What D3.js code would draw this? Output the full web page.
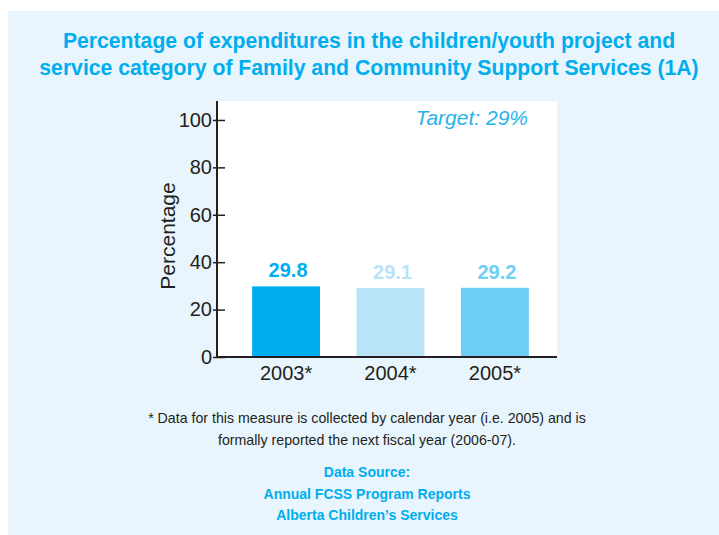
<!DOCTYPE html>
<html>
<head>
<meta charset="utf-8">
<script src="https://cdn.jsdelivr.net/npm/d3@7"></script>
<style>
  body { margin: 0; background: #fff; }
  svg { display: block; font-family: "Liberation Sans", Arial, sans-serif; }
</style>
</head>
<body>
<svg id="chart" width="719" height="535"></svg>
<script>
// chart data
const years = ['2003*', '2004*', '2005*'];
const values = [29.8, 29.1, 29.2];
const barColors = ['#00aeef', '#b9e4f8', '#6dcff6'];
const yTicks = [0, 20, 40, 60, 80, 100];
const titleLines = [
  'Percentage of expenditures in the children/youth project and',
  'service category of Family and Community Support Services (1A)'
];
const noteLines = [
  '* Data for this measure is collected by calendar year (i.e. 2005) and is',
  'formally reported the next fiscal year (2006-07).'
];
const sourceLines = ['Data Source:', 'Annual FCSS Program Reports', 'Alberta Children\u2019s Services'];

const svg = d3.select('#chart');
const blue = '#00aeef';
const ink = '#231f20';

// light blue panel behind everything
svg.append('rect')
  .attr('x', 8).attr('y', 11)
  .attr('width', 711).attr('height', 524)
  .attr('fill', '#e9f5fc');

// title
svg.append('g').selectAll('text')
  .data(titleLines)
  .enter().append('text')
  .attr('x', 369)
  .attr('y', (d, i) => 48 + i * 27)
  .attr('text-anchor', 'middle')
  .style('font-size', '21.2px')
  .style('font-weight', 'bold')
  .style('fill', blue)
  .text(d => d);

// plot area
const plotLeft = 217, plotRight = 557, plotTop = 101, plotBottom = 357;

svg.append('rect')
  .attr('x', plotLeft).attr('y', plotTop)
  .attr('width', plotRight - plotLeft).attr('height', plotBottom - plotTop)
  .attr('fill', '#fff');

const x = d3.scaleBand()
  .domain(years)
  .range([226, 555])
  .paddingInner(0.35)
  .paddingOuter(0.25);

const y = d3.scaleLinear()
  .domain([0, 108])
  .range([plotBottom, plotTop]);

// bars
svg.append('g').selectAll('rect')
  .data(values)
  .enter().append('rect')
  .attr('x', (d, i) => x(years[i]))
  .attr('y', d => y(d))
  .attr('width', x.bandwidth())
  .attr('height', d => y(0) - y(d))
  .attr('fill', (d, i) => barColors[i]);

// value labels
svg.append('g').selectAll('text')
  .data(values)
  .enter().append('text')
  .attr('x', (d, i) => x(years[i]) + x.bandwidth() / 2 + 2)
  .attr('y', d => y(d) - 9)
  .attr('text-anchor', 'middle')
  .style('font-size', '20px')
  .style('font-weight', 'bold')
  .style('fill', (d, i) => barColors[i])
  .text(d => d.toFixed(1));

// y axis, ticks cross the line
const yAxis = svg.append('g')
  .attr('transform', `translate(${plotLeft},0)`)
  .call(d3.axisLeft(y).tickValues(yTicks).tickSize(0).tickPadding(5));
yAxis.select('.domain').remove();
yAxis.selectAll('text')
  .style('font-size', '20px')
  .style('fill', ink);
yAxis.selectAll('.tick').append('line')
  .attr('x1', -4).attr('x2', 8)
  .attr('stroke', ink).attr('stroke-width', 1.5);
yAxis.append('line')
  .attr('x1', 0).attr('x2', 0)
  .attr('y1', plotTop).attr('y2', plotBottom)
  .attr('stroke', ink).attr('stroke-width', 2);

// x axis
const xAxis = svg.append('g')
  .attr('transform', `translate(0,${plotBottom})`)
  .call(d3.axisBottom(x).tickSize(0).tickPadding(9));
xAxis.select('.domain').remove();
xAxis.selectAll('text')
  .style('font-size', '20px')
  .style('fill', ink);
xAxis.append('line')
  .attr('x1', plotLeft - 1).attr('x2', plotRight)
  .attr('stroke', ink).attr('stroke-width', 2);

// y label
svg.append('text')
  .attr('transform', 'translate(175,236) rotate(-90)')
  .attr('text-anchor', 'middle')
  .style('font-size', '21px')
  .style('fill', ink)
  .text('Percentage');

// target
svg.append('text')
  .attr('x', 528).attr('y', 125)
  .attr('text-anchor', 'end')
  .style('font-size', '21px')
  .style('font-style', 'italic')
  .style('fill', '#27b2ea')
  .text('Target: 29%');

// footnote
svg.append('g').selectAll('text')
  .data(noteLines)
  .enter().append('text')
  .attr('x', 367)
  .attr('y', (d, i) => 423 + i * 22)
  .attr('text-anchor', 'middle')
  .style('font-size', '14.2px')
  .style('fill', ink)
  .text(d => d);

// data source
svg.append('g').selectAll('text')
  .data(sourceLines)
  .enter().append('text')
  .attr('x', 367)
  .attr('y', (d, i) => 477 + i * 21.5)
  .attr('text-anchor', 'middle')
  .style('font-size', '14px')
  .style('font-weight', 'bold')
  .style('fill', blue)
  .text(d => d);
</script>
</body>
</html>
